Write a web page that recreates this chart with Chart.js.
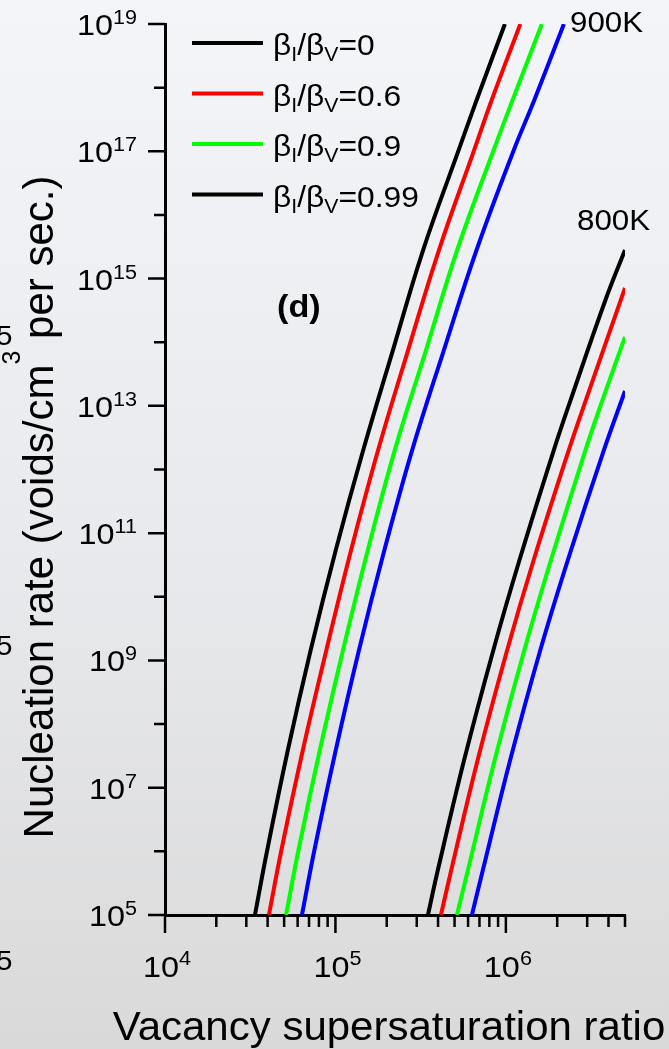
<!DOCTYPE html>
<html>
<head>
<meta charset="utf-8">
<script src="https://cdn.jsdelivr.net/npm/chart.js@4"></script>
<style>
  html, body { margin: 0; padding: 0; }
  body {
    width: 669px; height: 1049px; overflow: hidden;
    background: linear-gradient(to bottom, #f4f5f9 0%, #e8e9ec 55%, #d9d9d9 100%);
  }
  canvas { display: block; }
</style>
</head>
<body>
<canvas id="nucleation-chart" width="669" height="1049"></canvas>
<script>
// values: x = vacancy supersaturation ratio, y = nucleation rate
var rate900 = [1e5, 1.05e6, 3.91e7, 1.46e9, 5.43e10, 2.02e12, 7.53e13, 2.81e15, 1.05e17, 6.40e17, 1e19];
var ratio900_0 = [3.37e4, 3.98e4, 5.26e4, 7.16e4, 1.005e5, 1.456e5, 2.175e5, 3.27e5, 5.29e5, 6.74e5, 9.87e5];
var ratio900_06 = [4.07e4, 4.82e4, 6.44e4, 8.85e4, 1.236e5, 1.78e5, 2.67e5, 4.05e5, 6.52e5, 8.26e5, 1.216e6];
var ratio900_09 = [5.13e4, 6.07e4, 8.10e4, 1.108e5, 1.549e5, 2.23e5, 3.40e5, 5.18e5, 8.48e5, 1.095e6, 1.626e6];
var ratio900_099 = [6.36e4, 7.53e4, 1.005e5, 1.375e5, 1.938e5, 2.82e5, 4.33e5, 6.73e5, 1.114e6, 1.469e6, 2.19e6];

var ratio800_0 = [3.49e5, 3.99e5, 5.69e5, 8.45e5, 1.202e6, 1.912e6, 2.40e6, 3.84e6, 5e6];
var rate800_0 = [1e5, 5.08e5, 2.72e7, 1.46e9, 3.78e10, 2.02e12, 1.24e13, 4.60e14, 2.81e15];
var ratio800_06 = [4.16e5, 4.78e5, 6.83e5, 1.018e6, 1.456e6, 2.34e6, 2.95e6, 5e6];
var rate800_06 = [1e5, 5.08e5, 2.72e7, 1.46e9, 3.78e10, 2.02e12, 1.24e13, 7.11e14];
var ratio800_09 = [5.16e5, 5.99e5, 8.60e5, 1.284e6, 1.839e6, 2.93e6, 3.69e6, 5e6];
var rate800_09 = [1e5, 5.08e5, 2.72e7, 1.46e9, 3.78e10, 2.02e12, 1.24e13, 1.21e14];
var ratio800_099 = [6.32e5, 7.33e5, 1.060e6, 1.593e6, 2.31e6, 3.76e6, 5e6];
var rate800_099 = [1e5, 5.08e5, 2.72e7, 1.46e9, 3.78e10, 2.02e12, 1.71e13];

var betaRatios = ['0', '0.6', '0.9', '0.99'];
var curveColors = ['#000000', '#ff0000', '#00ff00', '#0000ff'];
var legendColors = ['#000000', '#ff0000', '#00ff00', '#000000'];

var yLabelExps = [5, 7, 9, 11, 13, 15, 17, 19];
var yMinorExps = [6, 8, 10, 12, 14, 16, 18];
var xLabelExps = [4, 5, 6];
var xMinorTicks = [2e4, 3e4, 4e4, 5e4, 6e4, 7e4, 8e4, 9e4,
	2e5, 3e5, 4e5, 5e5, 6e5, 7e5, 8e5, 9e5, 2e6, 3e6, 4e6, 5e6];

var FONT = '"Liberation Sans", Arial, sans-serif';

function pts(xs, ys) {
	var out = [];
	for (let i = 0; i < xs.length; i++) out.push({x: xs[i], y: ys[i]});
	return out;
}

function line(label, data, color) {
	return {
		label: label,
		data: data,
		borderColor: color,
		borderWidth: 4,
		pointRadius: 0,
		fill: false,
		tension: 0.4
	};
}

// draws a row of text pieces [text, fontSize, dy, bold]
function drawRuns(ctx, runs, x, y, align, sx) {
	var w = 0;
	runs.forEach(function (r) {
		ctx.font = (r[3] ? 'bold ' : '') + r[1] + 'px ' + FONT;
		w += ctx.measureText(r[0]).width;
	});
	var cx = align === 'right' ? -w : (align === 'center' ? -w / 2 : 0);
	ctx.save();
	ctx.translate(x, y);
	ctx.scale(sx, 1);
	ctx.textAlign = 'left';
	ctx.textBaseline = 'alphabetic';
	ctx.fillStyle = '#000';
	runs.forEach(function (r) {
		ctx.font = (r[3] ? 'bold ' : '') + r[1] + 'px ' + FONT;
		ctx.fillText(r[0], cx, r[2]);
		cx += ctx.measureText(r[0]).width;
	});
	ctx.restore();
}

var decorations = {
	id: 'decorations',
	afterDraw: function (chart) {
		var ctx = chart.ctx;
		var xs = chart.scales.x, ys = chart.scales.y;
		var left = chart.chartArea.left, bottom = chart.chartArea.bottom;

		ctx.save();
		ctx.strokeStyle = '#000';
		ctx.lineWidth = 2.5;
		ctx.beginPath();
		yLabelExps.forEach(function (e) {
			var p = ys.getPixelForValue(Math.pow(10, e));
			ctx.moveTo(left - 17, p); ctx.lineTo(left, p);
		});
		yMinorExps.forEach(function (e) {
			var p = ys.getPixelForValue(Math.pow(10, e));
			ctx.moveTo(left - 11, p); ctx.lineTo(left, p);
		});
		xLabelExps.forEach(function (e) {
			var p = xs.getPixelForValue(Math.pow(10, e));
			ctx.moveTo(p, bottom); ctx.lineTo(p, bottom + 18);
		});
		xMinorTicks.forEach(function (v) {
			var p = xs.getPixelForValue(v);
			ctx.moveTo(p, bottom); ctx.lineTo(p, bottom + 12);
		});
		ctx.stroke();
		ctx.restore();

		// tick labels
		yLabelExps.forEach(function (e) {
			var p = ys.getPixelForValue(Math.pow(10, e));
			drawRuns(ctx, [['10', 30, 0], [String(e), 20, -11]], 137, p + 11, 'right', 1.08);
		});
		xLabelExps.forEach(function (e) {
			var p = xs.getPixelForValue(Math.pow(10, e));
			drawRuns(ctx, [['10', 30, 0], [String(e), 20, -12]], p + 2, 977, 'center', 1.08);
		});

		// axis titles
		drawRuns(ctx, [['Vacancy supersaturation ratio', 40, 0]], 389, 1040, 'center', 1.05);
		ctx.save();
		ctx.translate(53, 507);
		ctx.rotate(-Math.PI / 2);
		drawRuns(ctx, [['Nucleation rate (voids/cm', 42, 0], ['3', 25, -33], [' per sec.)', 42, 0]], 0, 0, 'center', 1);
		ctx.restore();

		// legend
		betaRatios.forEach(function (b, i) {
			var ly = 43 + i * 50.5;
			ctx.save();
			ctx.strokeStyle = legendColors[i];
			ctx.lineWidth = 4;
			ctx.beginPath();
			ctx.moveTo(192, ly); ctx.lineTo(263, ly);
			ctx.stroke();
			ctx.restore();
			drawRuns(ctx, [['\u03B2', 30, 0], ['I', 20, 6], ['/\u03B2', 30, 0], ['V', 20, 6], ['=' + b, 30, 0]],
				273, ly + 12, 'left', 1.06);
		});

		// annotations
		drawRuns(ctx, [['900K', 29, 0]], 570, 32, 'left', 1.08);
		drawRuns(ctx, [['800K', 29, 0]], 577, 230, 'left', 1.08);
		drawRuns(ctx, [['(d)', 32, 0, true]], 277, 317, 'left', 1.07);

		// bits of the neighbouring panel cut off at the left edge
		drawRuns(ctx, [['5', 27, 0]], -4, 345, 'left', 1.1);
		drawRuns(ctx, [['5', 27, 0]], -4, 655, 'left', 1.1);
		drawRuns(ctx, [['5', 27, 0]], -4, 970, 'left', 1.1);
	}
};

const nucleationChart = document.getElementById('nucleation-chart');
new Chart(nucleationChart, {
	type: 'line',
	data: {
		datasets: [
			line('900K 0', pts(ratio900_0, rate900), curveColors[0]),
			line('900K 0.6', pts(ratio900_06, rate900), curveColors[1]),
			line('900K 0.9', pts(ratio900_09, rate900), curveColors[2]),
			line('900K 0.99', pts(ratio900_099, rate900), curveColors[3]),
			line('800K 0', pts(ratio800_0, rate800_0), curveColors[0]),
			line('800K 0.6', pts(ratio800_06, rate800_06), curveColors[1]),
			line('800K 0.9', pts(ratio800_09, rate800_09), curveColors[2]),
			line('800K 0.99', pts(ratio800_099, rate800_099), curveColors[3])
		]
	},
	options: {
		responsive: false,
		animation: false,
		devicePixelRatio: 1,
		layout: { padding: { left: 165, top: 24, right: 44, bottom: 134 } },
		plugins: { legend: { display: false }, tooltip: { enabled: false } },
		scales: {
			x: {
				type: 'logarithmic',
				min: 1e4,
				max: 5e6,
				grid: { display: false, drawTicks: false },
				ticks: { display: false },
				border: { display: true, color: '#000', width: 3 }
			},
			y: {
				type: 'logarithmic',
				min: 1e5,
				max: 1e19,
				grid: { display: false, drawTicks: false },
				ticks: { display: false },
				border: { display: true, color: '#000', width: 3 }
			}
		}
	},
	plugins: [decorations]
});
</script>
</body>
</html>
